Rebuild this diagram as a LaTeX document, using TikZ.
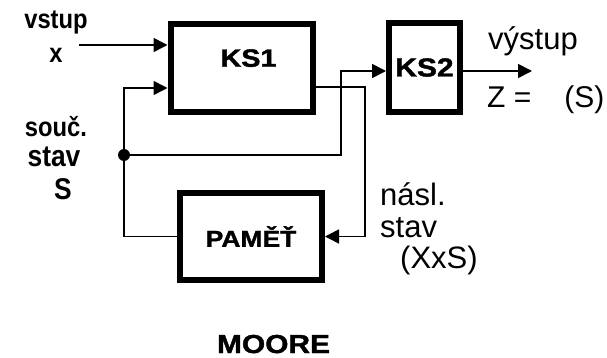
\documentclass[tikz,border=0pt]{standalone}
\usepackage{fontspec}
\setmainfont{Liberation Sans}
\newfontfamily\boxfont[UprightFont={* Bold}, FakeStretch=1.15, FakeBold=1.5]{Liberation Sans}
\newfontfamily\sidefont[UprightFont={* Bold}, FakeStretch=0.88]{Liberation Sans}
\usetikzlibrary{arrows.meta}

\begin{document}
\begin{tikzpicture}[x=1pt, y=-1pt,
  box/.style={draw, line width=6pt, inner sep=0pt},
  link/.style={line width=1.6pt},
  arr/.style={link, -{Triangle[length=14pt, width=14pt]}},
  inlbl/.style={anchor=base, inner sep=0pt, font=\sidefont\fontsize{27}{30}\selectfont},
  outlbl/.style={anchor=base west, inner sep=0pt, font=\fontsize{31}{34}\selectfont}]
  \useasboundingbox (0,0) rectangle (607,358);
  \node[box, minimum width=142pt, minimum height=88pt, text depth=20pt,
    font=\boxfont\fontsize{25}{27}\selectfont] (ks1) at (241.5,68) {\hspace*{14pt}KS1};
  \node[box, minimum width=71pt, minimum height=89pt,
    font=\boxfont\fontsize{26}{28}\selectfont] (ks2) at (424.5,67.5) {KS2};
  \node[box, minimum width=142pt, minimum height=87pt,
    font=\boxfont\fontsize{23}{25}\selectfont] (pam) at (251,236.5) {PAMĚŤ};
  \coordinate (xin) at (79,45);
  \coordinate (fb) at (124,88);
  \coordinate (dot) at (124,155);
  \coordinate (s2) at (341,71);
  \coordinate (nx) at (365,87);
  \coordinate (zout) at (532,71);
  \draw[arr] (xin) -- (xin -| ks1.west);
  \draw[arr] (pam.west) -| (fb) -- (fb -| ks1.west);
  \draw[arr] (dot) -| (s2) -- (s2 -| ks2.west);
  \draw[arr] (nx -| ks1.east) -- (nx) |- (pam.east);
  \draw[arr] (s2 -| ks2.east) -- (zout);
  \fill (dot) circle (6pt);
  \node[inlbl] (vstup) at (56,29) {vstup};
  \node[inlbl] (xlbl) at (56,63) {x};
  \node[inlbl] (souc) at (56,137) {souč.};
  \node[inlbl, font=\sidefont\fontsize{30}{32}\selectfont] (stav1) at (54,167) {stav};
  \node[inlbl, font=\sidefont\fontsize{30}{32}\selectfont] (slbl) at (63,200) {S};
  \node[outlbl] (vystup) at (488,50) {výstup};
  \node[outlbl, font=\fontsize{30}{34}\selectfont] (zlbl) at (487,108) {Z =\hspace{33pt}(S)};
  \node[outlbl] (nasl) at (380,205) {násl.};
  \node[outlbl] (stav2) at (380,237) {stav};
  \node[outlbl] (xxs) at (400,268) {(XxS)};
  \node[anchor=base, inner sep=0pt, font=\boxfont\fontsize{26}{28}\selectfont] (moore) at (273.5,353) {MOORE};
\end{tikzpicture}
\end{document}
